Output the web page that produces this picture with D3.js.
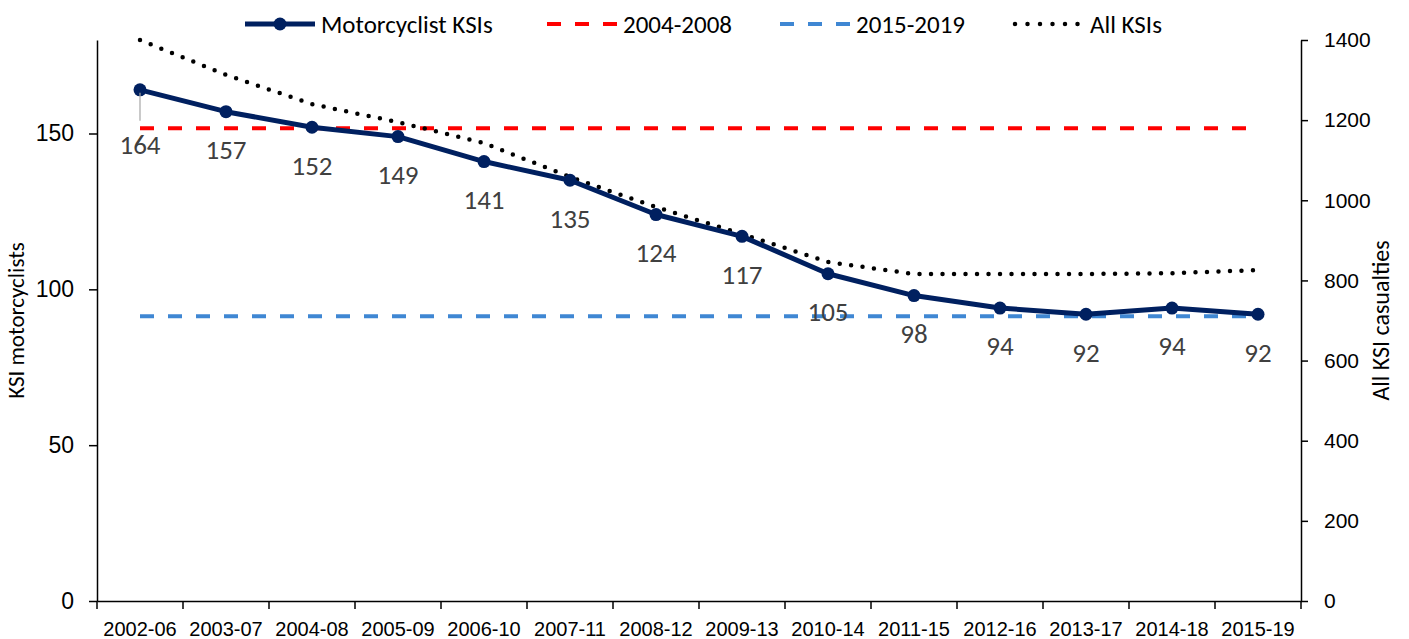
<!DOCTYPE html>
<html>
<head>
<meta charset="utf-8">
<script src="https://cdn.jsdelivr.net/npm/d3@7"></script>
<style>
  body { margin: 0; background: #fff; }
  svg { font-family: Carlito, Calibri, Lato, sans-serif; }
  .axis path, .axis line { stroke: #000; stroke-width: 1.5; }
  .axis text { fill: #000; }
</style>
</head>
<body>
<svg id="chart"></svg>
<script>
// categories (5-year rolling periods)
const periods = ["2002-06", "2003-07", "2004-08", "2005-09", "2006-10", "2007-11", "2008-12",
  "2009-13", "2010-14", "2011-15", "2012-16", "2013-17", "2014-18", "2015-19"];
// KSI motorcyclists (left axis)
const motoKSI = [164, 157, 152, 149, 141, 135, 124, 117, 105, 98, 94, 92, 94, 92];
// all KSI casualties (right axis)
const allKSI = [1400, 1313, 1240, 1195, 1143, 1058, 983, 916, 846, 816, 816, 816, 818, 826];
// baseline averages
const avg0408 = 151.7;
const avg1519 = 91.4;
const leftTicks = [0, 50, 100, 150];
const rightTicks = [0, 200, 400, 600, 800, 1000, 1200, 1400];

const W = 1409, H = 639;
const margin = {top: 40, right: 108, bottom: 38, left: 97};
const width = W - margin.left - margin.right;
const height = H - margin.top - margin.bottom;

const svg = d3.select('#chart').attr('width', W).attr('height', H);
const g = svg.append('g').attr('transform', `translate(${margin.left},${margin.top})`);

// scales
const xBand = d3.scaleBand().domain(periods).range([0, width]);
const xMid = d => xBand(d) + xBand.bandwidth() / 2;
const yL = d3.scaleLinear().domain([0, 180]).range([height, 0]);
const yR = d3.scaleLinear().domain([0, 1400]).range([height, 0]);

// axes
const yAxisL = g.append('g').attr('class', 'axis')
    .call(d3.axisLeft(yL).tickValues(leftTicks).tickSize(8).tickPadding(15).tickSizeOuter(0));
yAxisL.selectAll('text').style('font-size', '23px');

const yAxisR = g.append('g').attr('class', 'axis')
    .attr('transform', `translate(${width},0)`)
    .call(d3.axisRight(yR).tickValues(rightTicks).tickFormat(d3.format('d'))
      .tickSize(7).tickPadding(16).tickSizeOuter(0));
yAxisR.selectAll('text').style('font-size', '21px');

const xAxis = g.append('g').attr('class', 'axis')
    .attr('transform', `translate(0,${height})`)
    .call(d3.axisBottom(xBand).tickSize(0).tickPadding(21).tickSizeOuter(0));
xAxis.selectAll('text').style('font-size', '20px');
// tick marks sit between categories
xAxis.selectAll('.boundary')
    .data(periods.map(p => xBand(p)).concat([xBand.range()[1]]))
  .join('line')
    .attr('class', 'boundary')
    .attr('x1', d => d).attr('x2', d => d)
    .attr('y1', 0).attr('y2', 8);

// axis titles
svg.append('text')
    .attr('transform', `translate(24,${margin.top + height / 2}) rotate(-90)`)
    .attr('text-anchor', 'middle')
    .style('font-size', '23px')
    .text('KSI motorcyclists');
svg.append('text')
    .attr('transform', `translate(1389,${margin.top + height / 2}) rotate(-90)`)
    .attr('text-anchor', 'middle')
    .style('font-size', '24px')
    .text('All KSI casualties');

// average lines
const first = periods[0], last = periods[periods.length - 1];
g.append('line')
    .attr('x1', xMid(first)).attr('x2', xMid(last))
    .attr('y1', yL(avg0408)).attr('y2', yL(avg0408))
    .attr('stroke', '#ff0000').attr('stroke-width', 4)
    .attr('stroke-dasharray', '14 14');
g.append('line')
    .attr('x1', xMid(first)).attr('x2', xMid(last))
    .attr('y1', yL(avg1519)).attr('y2', yL(avg1519))
    .attr('stroke', '#3f87d3').attr('stroke-width', 4)
    .attr('stroke-dasharray', '14 14');

// all KSIs dotted line
g.append('path')
    .datum(allKSI)
    .attr('fill', 'none')
    .attr('stroke', '#000')
    .attr('stroke-width', 4.5)
    .attr('stroke-linecap', 'round')
    .attr('stroke-dasharray', '0 11.5')
    .attr('d', d3.line().x((d, i) => xMid(periods[i])).y(d => yR(d)));

// motorcyclist line
g.append('path')
    .datum(motoKSI)
    .attr('fill', 'none')
    .attr('stroke', '#002060')
    .attr('stroke-width', 5)
    .attr('stroke-linejoin', 'round')
    .attr('d', d3.line().x((d, i) => xMid(periods[i])).y(d => yL(d)));

g.selectAll('.pt')
    .data(motoKSI)
  .join('circle')
    .attr('class', 'pt')
    .attr('cx', (d, i) => xMid(periods[i]))
    .attr('cy', d => yL(d))
    .attr('r', 6.5)
    .attr('fill', '#002060');

// leader line for the first label
g.append('line')
    .attr('x1', xMid(first)).attr('x2', xMid(first))
    .attr('y1', yL(motoKSI[0]) + 3).attr('y2', yL(motoKSI[0]) + 31)
    .attr('stroke', '#a6a6a6').attr('stroke-width', 1.2);

// data labels
g.selectAll('.lbl')
    .data(motoKSI)
  .join('text')
    .attr('class', 'lbl')
    .attr('x', (d, i) => xMid(periods[i]))
    .attr('y', (d, i) => yL(d) + (i === 0 ? 55 : 38))
    .attr('dy', '0.35em')
    .attr('text-anchor', 'middle')
    .style('font-size', '27px')
    .style('fill', '#404040')
    .text(d => d);

// legend
const legend = svg.append('g').attr('transform', 'translate(0,24)');
const items = [
  {x: 245, label: 'Motorcyclist KSIs', color: '#002060', dash: null, w: 5, marker: true},
  {x: 547, label: '2004-2008', color: '#ff0000', dash: '14 14', w: 4},
  {x: 780, label: '2015-2019', color: '#3f87d3', dash: '14 14', w: 4},
  {x: 1013, label: 'All KSIs', color: '#000', dash: '0 12.5', w: 4.5, round: true}
];
items.forEach(it => {
  const li = legend.append('g').attr('transform', `translate(${it.x},0)`);
  li.append('line')
      .attr('x1', it.round ? 2 : 0).attr('x2', 70)
      .attr('stroke', it.color).attr('stroke-width', it.w)
      .attr('stroke-dasharray', it.dash)
      .attr('stroke-linecap', it.round ? 'round' : 'butt');
  if (it.marker) li.append('circle').attr('cx', 35).attr('r', 6.5).attr('fill', it.color);
  li.append('text')
      .attr('x', it.round ? 77 : 76)
      .attr('dy', '0.35em')
      .style('font-size', '25px')
      .text(it.label);
});
</script>
</body>
</html>
